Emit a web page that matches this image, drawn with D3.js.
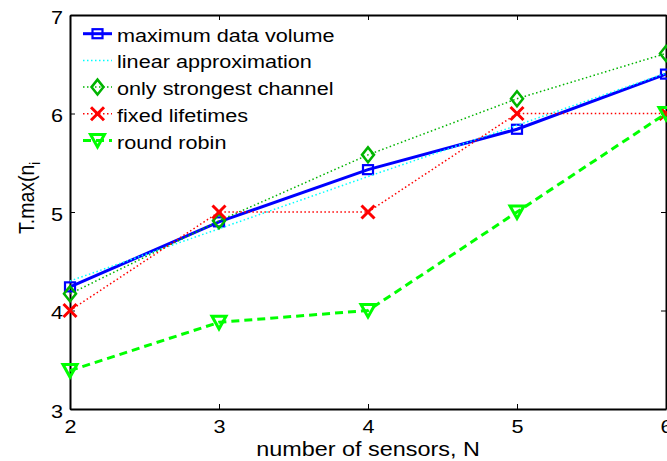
<!DOCTYPE html>
<html>
<head>
<meta charset="utf-8">
<script src="https://cdn.jsdelivr.net/npm/d3@7"></script>
<style>
  html, body { margin: 0; padding: 0; background: #fff; }
  svg { display: block; }
  text { font-family: "Liberation Sans", Arial, Helvetica, sans-serif; fill: #000; }
</style>
</head>
<body>
<svg id="chart" width="667" height="461"></svg>
<script>
// Number of sensors on the x axis
const sensorCounts = [2, 3, 4, 5, 6];

// Series values
const maxDataVolume   = [4.24, 4.90, 5.43, 5.84, 6.40];
const linearApprox    = [4.30, 4.83, 5.36, 5.88, 6.41];
const strongestOnly   = [4.17, 4.91, 5.58, 6.15, 6.61];
const fixedLifetimes  = [4.00, 5.00, 5.00, 6.00, 6.00];
const roundRobin      = [3.39, 3.88, 4.00, 5.00, 6.00];

// Tick labels
const xTickValues = [2, 3, 4, 5, 6];
const yTickValues = [3, 4, 5, 6, 7];

const seriesNames = [
  "maximum data volume",
  "linear approximation",
  "only strongest channel",
  "fixed lifetimes",
  "round robin"
];

const plot = { left: 70, right: 666, top: 15, bottom: 409 };
const TEXT_STRETCH = 1.17;

const svg = d3.select("#chart");

const x = d3.scaleLinear().domain([2, 6]).range([plot.left, plot.right]);
const y = d3.scaleLinear().domain([3, 7]).range([plot.bottom, plot.top]);

// Series styles
const styles = [
  { values: maxDataVolume,  color: "#0000ff", width: 3,   dash: null,      marker: "square" },
  { values: linearApprox,   color: "#00ffff", width: 1.5, dash: "1.5,2.5", marker: null },
  { values: strongestOnly,  color: "#00b400", width: 1.5, dash: "1.5,2.5", marker: "diamond" },
  { values: fixedLifetimes, color: "#ff0000", width: 1.5, dash: "1.5,2.5", marker: "cross" },
  { values: roundRobin,     color: "#00ff00", width: 3,   dash: "8,5",     marker: "triangle" }
];

function drawMarker(g, type, cx, cy, color) {
  if (type === "square") {
    g.append("rect")
      .attr("x", cx - 5).attr("y", cy - 4.5)
      .attr("width", 10).attr("height", 9)
      .attr("fill", "none").attr("stroke", color).attr("stroke-width", 2.2);
  } else if (type === "diamond") {
    g.append("path")
      .attr("d", `M${cx},${cy - 7.5}L${cx + 6},${cy}L${cx},${cy + 7.5}L${cx - 6},${cy}Z`)
      .attr("fill", "none").attr("stroke", color).attr("stroke-width", 2.5);
  } else if (type === "cross") {
    const r = 6.5;
    g.append("path")
      .attr("d", `M${cx - r},${cy - r}L${cx + r},${cy + r}M${cx - r},${cy + r}L${cx + r},${cy - r}`)
      .attr("fill", "none").attr("stroke", color).attr("stroke-width", 3);
  } else if (type === "triangle") {
    g.append("path")
      .attr("d", `M${cx - 7},${cy - 6}L${cx + 7},${cy - 6}L${cx},${cy + 6.5}Z`)
      .attr("fill", "none").attr("stroke", color).attr("stroke-width", 3)
      .attr("stroke-linejoin", "miter");
  }
}

// Axes box with inward ticks on all four sides
const axisFont = 18.5;

const gBottom = svg.append("g").attr("transform", `translate(0,${plot.bottom})`)
  .call(d3.axisBottom(x).tickValues(xTickValues).tickFormat(d3.format("d"))
    .tickSizeInner(-5).tickSizeOuter(0).tickPadding(11));
gBottom.selectAll("text").attr("font-size", axisFont)
  .attr("transform", `scale(${TEXT_STRETCH},1)`);

const gLeft = svg.append("g").attr("transform", `translate(${plot.left},0)`)
  .call(d3.axisLeft(y).tickValues(yTickValues).tickFormat(d3.format("d"))
    .tickSizeInner(-5).tickSizeOuter(0).tickPadding(6));
gLeft.selectAll("text").attr("font-size", axisFont).attr("dy", "0.44em")
  .attr("transform", `scale(${TEXT_STRETCH},1)`);

svg.append("g").attr("transform", `translate(0,${plot.top})`)
  .call(d3.axisTop(x).tickValues(xTickValues).tickFormat("")
    .tickSizeInner(-5).tickSizeOuter(0));

svg.append("g").attr("transform", `translate(${plot.right},0)`)
  .call(d3.axisRight(y).tickValues(yTickValues).tickFormat("")
    .tickSizeInner(-5).tickSizeOuter(0));

svg.selectAll(".domain").attr("stroke", "#000").attr("stroke-width", 2);
svg.selectAll(".tick line").attr("stroke", "#000").attr("stroke-width", 1);

// Series lines and markers
const line = d3.line().x((d, i) => x(sensorCounts[i])).y(d => y(d));
const gSeries = svg.append("g");
styles.forEach(s => {
  const g = gSeries.append("g");
  g.append("path")
    .datum(s.values)
    .attr("d", line)
    .attr("fill", "none")
    .attr("stroke", s.color)
    .attr("stroke-width", s.width)
    .attr("stroke-dasharray", s.dash);
  if (s.marker) {
    s.values.forEach((v, i) => drawMarker(g, s.marker, x(sensorCounts[i]), y(v), s.color));
  }
});

// Legend
const legend = svg.append("g");
const rowY0 = 41.7, rowStep = 26.7;
styles.forEach((s, i) => {
  const by = rowY0 + i * rowStep;
  const ly = by - 8;
  legend.append("line")
    .attr("x1", 83).attr("x2", 112).attr("y1", ly).attr("y2", ly)
    .attr("stroke", s.color).attr("stroke-width", s.width)
    .attr("stroke-dasharray", s.dash);
  if (s.marker) drawMarker(legend, s.marker, 97.5, ly, s.color);
  legend.append("g")
    .attr("transform", `translate(117,${by}) scale(${TEXT_STRETCH},1)`)
    .append("text")
    .attr("font-size", 18.5)
    .text(seriesNames[i]);
});

// Axis titles
svg.append("g")
  .attr("transform", `translate(${(plot.left + plot.right) / 2},456) scale(${TEXT_STRETCH},1)`)
  .append("text")
  .attr("text-anchor", "middle")
  .attr("font-size", 20)
  .text("number of sensors, N");

const yTitle = svg.append("g")
  .attr("transform", `translate(34,234) scale(${TEXT_STRETCH},1) rotate(-90)`)
  .append("text")
  .attr("font-size", 19.5);
yTitle.append("tspan").text("T.max(n");
yTitle.append("tspan").attr("font-size", 13).attr("dy", 5).text("i");
</script>
</body>
</html>
